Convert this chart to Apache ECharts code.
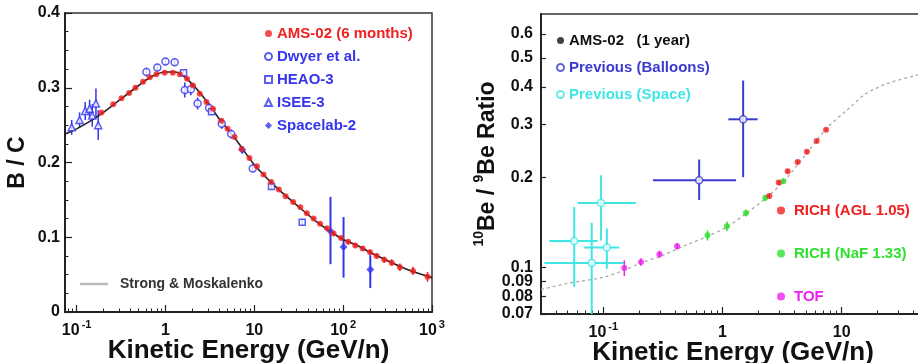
<!DOCTYPE html>
<html>
<head>
<meta charset="utf-8">
<script src="https://cdn.jsdelivr.net/npm/echarts@6/dist/echarts.min.js"></script>
<style>html,body{margin:0;padding:0;background:#fff;overflow:hidden}#c{width:918px;height:363px}</style>
</head>
<body>
<div id="c"></div>
<script>
const FONT = "'Liberation Sans', Arial, Helvetica, sans-serif";

// ---- left panel: B/C ----
const bcTheory = [[0.074,0.238],[0.1,0.245],[0.15,0.257],[0.2,0.267],[0.3,0.283],[0.5,0.303],[0.7,0.315],[1,0.321],[1.3,0.321],[1.7,0.313],[2.5,0.292],[4,0.259],[6,0.233],[10,0.197],[15,0.175],[20,0.161],[30,0.143],[50,0.121],[80,0.104],[100,0.097],[150,0.088],[200,0.080],[300,0.070],[500,0.058],[1000,0.046]];
const amsBC = [[0.19,0.267],[0.258,0.278],[0.32,0.286],[0.39,0.293],[0.46,0.300],[0.56,0.308],[0.667,0.314],[0.79,0.318],[0.98,0.320],[1.21,0.320],[1.45,0.318],[1.75,0.312],[2.04,0.303],[2.43,0.292],[2.89,0.281],[3.42,0.272],[4.25,0.256],[5.0,0.245],[6.0,0.234],[7.2,0.218],[8.8,0.206],[10.7,0.195],[12.7,0.184],[15.5,0.174],[18.9,0.164],[22.5,0.155],[27.4,0.147],[33,0.140],[39,0.132],[46.5,0.125],[55,0.118],[66,0.112],[78,0.105],[95,0.099],[114,0.094],[137,0.089],[166,0.085],[201,0.080],[238,0.075],[290,0.070],[352,0.066],[435,0.060],[612,0.055],[891,0.047]];
const amsBCErr = [0.002,0.002,0.002,0.002,0.002,0.002,0.002,0.002,0.002,0.002,0.002,0.002,0.002,0.002,0.002,0.002,0.002,0.002,0.002,0.002,0.002,0.002,0.002,0.002,0.002,0.002,0.002,0.002,0.002,0.002,0.002,0.002,0.0025,0.0025,0.003,0.003,0.003,0.0035,0.0035,0.004,0.0045,0.005,0.0055,0.0065];
const dwyer = [[0.61,0.321],[0.81,0.327],[1.0,0.335],[1.27,0.334],[1.65,0.297],[1.93,0.298],[2.3,0.279],[3.1,0.273],[4.3,0.252],[5.5,0.238],[9.6,0.192]];
const dwyerErr = [0.006,0.005,0.005,0.005,0.01,0.008,0.008,0.007,0.007,0.006,0.005];
const heao = [[1.6,0.320],[3.3,0.268],[15.6,0.168],[34.6,0.120]];
const heaoErr = [0.004,0.004,0.004,0.004];
const isee = [[0.088,0.247],[0.108,0.257],[0.125,0.269],[0.14,0.272],[0.15,0.263],[0.165,0.279],[0.175,0.250]];
const iseeErr = [0.010,0.010,0.012,0.012,0.015,0.020,0.020];
const spacelab = [[7.3,0.217],[72,0.108],[101,0.087],[202,0.057]];
const spacelabRange = [[0.212,0.222],[0.064,0.154],[0.046,0.127],[0.032,0.076]];

// ---- right panel: 10Be/9Be ----
const beModel = [[0.03,0.0845],[0.05,0.0885],[0.1,0.0928],[0.15,0.098],[0.2,0.103],[0.3,0.109],[0.5,0.119],[0.75,0.127],[1.1,0.137],[1.6,0.152],[2.3,0.170],[3.2,0.192],[5,0.238],[7.4,0.29],[11,0.334],[16,0.38],[24,0.41],[42,0.437],[50,0.443]];
const balloon = [[0.637,0.1954],[1.49,0.312]];
const balloonRange = [[0.261,1.30,0.168,0.229],[1.12,1.97,0.20,0.42]];
const space = [[0.057,0.1226],[0.0957,0.164],[0.107,0.1166],[0.0799,0.1036]];
const spaceRange = [[0.0352,0.0897,0.0862,0.159],[0.0609,0.188,0.123,0.203],[0.069,0.136,0.099,0.135],[0.032,0.148,0.0685,0.141]];
const tof = [[0.150,0.0997],[0.207,0.1044],[0.296,0.1107],[0.416,0.1178]];
const tofErr = [0.006,0.003,0.003,0.003];
const naf = [[0.748,0.128],[1.089,0.1373],[1.573,0.152],[2.285,0.1707],[3.24,0.194]];
const nafErr = [0.005,0.005,0.004,0.004,0.004];
const agl = [[2.47,0.173],[2.96,0.192],[3.52,0.2095],[4.27,0.2249],[5.11,0.243],[6.17,0.264],[7.39,0.288]];
const aglErr = [0.003,0.003,0.003,0.003,0.003,0.003,0.003];

const leftXTicks = [0.1, 1, 10, 100, 1000];
const rightXTicks = [0.1, 1, 10];
const rightYTicks = [0.07, 0.08, 0.09, 0.1, 0.2, 0.3, 0.4, 0.5, 0.6];

const RED = '#f02020', BLUE = '#3535f0', DBLUE = '#3b3bd0', CYAN = '#40e6e6', GREEN = '#30e030', MAG = '#f020f0';

function logMinor(lo, hi) {
  const out = [];
  for (let e = -3; e <= 4; e++) {
    for (let m = 2; m <= 9; m++) {
      const v = +(m * Math.pow(10, e)).toPrecision(3);
      if (v >= lo && v <= hi) out.push(v);
    }
  }
  return out;
}

function symErr(pts, err) {
  return pts.map((p, i) => [p[0], p[1], p[0], p[0], p[1] - err[i], p[1] + err[i]]);
}

function errBars(data, color, width, xi, yi) {
  return {
    type: 'custom', xAxisIndex: xi, yAxisIndex: yi, clip: true, silent: true, z: 1,
    encode: { x: 0, y: 1 },
    data: data,
    renderItem: function (params, api) {
      const x = api.value(0), y = api.value(1);
      const a = api.coord([api.value(2), y]), b = api.coord([api.value(3), y]);
      const c = api.coord([x, api.value(4)]), d = api.coord([x, api.value(5)]);
      const st = { stroke: color, lineWidth: width };
      const kids = [{ type: 'line', shape: { x1: c[0], y1: c[1], x2: d[0], y2: d[1] }, style: st }];
      if (b[0] - a[0] > 0.5) kids.push({ type: 'line', shape: { x1: a[0], y1: a[1], x2: b[0], y2: b[1] }, style: st });
      return { type: 'group', children: kids };
    }
  };
}

const powRich = {
  b: { fontSize: 16, fontWeight: 'bold', color: '#111', fontFamily: FONT, verticalAlign: 'bottom', lineHeight: 20 },
  s: { fontSize: 11, fontWeight: 'bold', color: '#111', fontFamily: FONT, verticalAlign: 'top', padding: [0, 0, 0, 2] }
};
function powLabel(v) {
  const e = Math.round(Math.log10(v));
  if (e === 0) return '{b|1}';
  if (e === 1) return '{b|10}';
  return '{b|10}{s|' + e + '}';
}

const titleStyle = { fontSize: 26, fontWeight: 'bold', color: '#111', fontFamily: FONT };
const lineDark = { lineStyle: { color: '#222', width: 2 } };

function majorX(grid, min, max, ticks) {
  return {
    type: 'log', gridIndex: grid, min: min, max: max, position: 'bottom',
    name: 'Kinetic Energy (GeV/n)', nameLocation: 'middle', nameGap: 26, nameMoveOverlap: false,
    nameTextStyle: titleStyle,
    axisLine: lineDark,
    axisTick: { inside: true, length: 7, customValues: ticks, lineStyle: { color: '#222', width: 1.2 } },
    axisLabel: { customValues: ticks, margin: 7, formatter: powLabel, rich: powRich },
    splitLine: { show: false }
  };
}
function minorX(grid, min, max) {
  return {
    type: 'log', gridIndex: grid, min: min, max: max, position: 'bottom',
    axisLine: { show: false }, axisLabel: { show: false }, splitLine: { show: false },
    axisTick: { inside: true, length: 3.5, customValues: logMinor(min, max), lineStyle: { color: '#222', width: 1 } }
  };
}

const chart = echarts.init(document.getElementById('c'));
chart.setOption({
  animation: false,
  backgroundColor: '#fff',
  grid: [
    { left: 65, top: 13, width: 367, height: 299, outerBoundsMode: 'none', show: true, borderColor: '#333', borderWidth: 1.5 },
    { left: 541, top: 14, width: 384, height: 300, outerBoundsMode: 'none', show: true, borderColor: '#333', borderWidth: 1.5 }
  ],
  xAxis: [
    majorX(0, 0.074, 1000, leftXTicks),
    minorX(0, 0.074, 1000),
    majorX(1, 0.03, 50, rightXTicks),
    minorX(1, 0.03, 50)
  ],
  yAxis: [
    {
      type: 'value', gridIndex: 0, min: 0, max: 0.4, interval: 0.1,
      name: 'B / C', nameLocation: 'middle', nameGap: 36, nameRotate: 90, nameMoveOverlap: false,
      nameTextStyle: { fontSize: 23, fontWeight: 'bold', color: '#111', fontFamily: FONT },
      axisLine: lineDark,
      axisTick: { inside: true, length: 7, lineStyle: { color: '#222', width: 1.2 } },
      minorTick: { show: true, splitNumber: 4, length: 3.5, lineStyle: { color: '#222', width: 1 } },
      axisLabel: { fontSize: 16, fontWeight: 'bold', color: '#111', fontFamily: FONT, margin: 5 },
      splitLine: { show: false }
    },
    {
      type: 'log', gridIndex: 1, min: 0.07, max: 0.7,
      name: '{s|10}{b|Be / }{s|9}{b|Be Ratio}', nameLocation: 'middle', nameGap: 42, nameRotate: 90, nameMoveOverlap: false,
      nameTextStyle: {
        rich: {
          b: { fontSize: 23, fontWeight: 'bold', color: '#111', fontFamily: FONT, verticalAlign: 'bottom', lineHeight: 27 },
          s: { fontSize: 14, fontWeight: 'bold', color: '#111', fontFamily: FONT, verticalAlign: 'top' }
        }
      },
      axisLine: lineDark,
      axisTick: { inside: true, length: 5, customValues: rightYTicks, lineStyle: { color: '#222', width: 1.2 } },
      axisLabel: {
        customValues: rightYTicks, fontSize: 16, fontWeight: 'bold', color: '#111', fontFamily: FONT, margin: 8,
        formatter: v => String(Math.round(v * 100) / 100)
      },
      splitLine: { show: false }
    }
  ],
  legend: [
    {
      left: 259, top: 21, orient: 'vertical', itemWidth: 7, itemHeight: 7, itemGap: 8, selectedMode: false,
      textStyle: { fontSize: 15, fontWeight: 'bold', fontFamily: FONT, lineHeight: 15 },
      data: [
        { name: 'AMS-02 (6 months)', textStyle: { color: RED } },
        { name: 'Dwyer et al.', textStyle: { color: BLUE } },
        { name: 'HEAO-3', textStyle: { color: BLUE } },
        { name: 'ISEE-3', textStyle: { color: BLUE } },
        { name: 'Spacelab-2', textStyle: { color: BLUE } }
      ]
    },
    {
      left: 75, top: 272, itemWidth: 28, itemHeight: 2.5, selectedMode: false,
      textStyle: { fontSize: 14, fontWeight: 'bold', fontFamily: FONT, color: '#333', padding: [0, 0, 0, 7] },
      data: [{ name: 'Strong & Moskalenko', icon: 'rect', itemStyle: { color: '#bbb' } }]
    },
    {
      left: 551, top: 28, orient: 'vertical', itemWidth: 7, itemHeight: 7, itemGap: 12, selectedMode: false,
      textStyle: { fontSize: 15, fontWeight: 'bold', fontFamily: FONT, lineHeight: 15 },
      data: [
        { name: 'AMS-02   (1 year)', textStyle: { color: '#111' } },
        { name: 'Previous (Balloons)', textStyle: { color: DBLUE } },
        { name: 'Previous (Space)', textStyle: { color: CYAN } }
      ]
    },
    {
      left: 772, top: 198, orient: 'vertical', itemWidth: 8, itemHeight: 8, itemGap: 28, selectedMode: false,
      textStyle: { fontSize: 15, fontWeight: 'bold', fontFamily: FONT, lineHeight: 15, padding: [0, 0, 0, 4] },
      data: [
        { name: 'RICH (AGL 1.05)', textStyle: { color: RED } },
        { name: 'RICH (NaF 1.33)', textStyle: { color: GREEN } },
        { name: 'TOF', textStyle: { color: MAG } }
      ]
    }
  ],
  series: [
    // left panel
    { name: 'Strong & Moskalenko', type: 'line', xAxisIndex: 0, yAxisIndex: 0, data: bcTheory, smooth: 0.3,
      symbol: 'none', lineStyle: { color: '#222', width: 1.6 }, itemStyle: { color: '#222' }, z: 2 },
    errBars(symErr(amsBC, amsBCErr), RED, 1.5, 0, 0),
    errBars(symErr(dwyer, dwyerErr), BLUE, 1.5, 0, 0),
    errBars(symErr(heao, heaoErr), BLUE, 1.5, 0, 0),
    errBars(symErr(isee, iseeErr), BLUE, 1.5, 0, 0),
    errBars(spacelab.map((p, i) => [p[0], p[1], p[0], p[0], spacelabRange[i][0], spacelabRange[i][1]]), BLUE, 2, 0, 0),
    { name: 'AMS-02 (6 months)', type: 'scatter', xAxisIndex: 0, yAxisIndex: 0, data: amsBC,
      symbol: 'circle', symbolSize: 6, itemStyle: { color: RED }, z: 4 },
    { name: 'Dwyer et al.', type: 'scatter', xAxisIndex: 0, yAxisIndex: 0, data: dwyer,
      symbol: 'circle', symbolSize: 7, itemStyle: { color: '#fff', borderColor: BLUE, borderWidth: 1.5 }, z: 3 },
    { name: 'HEAO-3', type: 'scatter', xAxisIndex: 0, yAxisIndex: 0, data: heao,
      symbol: 'rect', symbolSize: 6, itemStyle: { color: '#fff', borderColor: BLUE, borderWidth: 1.5 }, z: 3 },
    { name: 'ISEE-3', type: 'scatter', xAxisIndex: 0, yAxisIndex: 0, data: isee,
      symbol: 'triangle', symbolSize: 7, itemStyle: { color: '#fff', borderColor: BLUE, borderWidth: 1.5 }, z: 3 },
    { name: 'Spacelab-2', type: 'scatter', xAxisIndex: 0, yAxisIndex: 0, data: spacelab,
      symbol: 'diamond', symbolSize: 8, itemStyle: { color: BLUE }, z: 3 },

    // right panel
    { name: 'model', type: 'line', xAxisIndex: 2, yAxisIndex: 1, data: beModel, smooth: 0.3, symbol: 'none',
      lineStyle: { color: '#aaa', width: 1.3, type: [3, 3] }, z: 1 },
    errBars(balloon.map((p, i) => [p[0], p[1]].concat(balloonRange[i])), DBLUE, 2, 2, 1),
    errBars(space.map((p, i) => [p[0], p[1]].concat(spaceRange[i])), CYAN, 2, 2, 1),
    errBars(symErr(tof, tofErr), MAG, 1.5, 2, 1),
    errBars(symErr(naf, nafErr), GREEN, 1.5, 2, 1),
    errBars(symErr(agl, aglErr), RED, 1.5, 2, 1),
    { name: 'AMS-02   (1 year)', type: 'scatter', xAxisIndex: 2, yAxisIndex: 1, data: [],
      symbol: 'circle', symbolSize: 6, itemStyle: { color: '#111' } },
    { name: 'Previous (Balloons)', type: 'scatter', xAxisIndex: 2, yAxisIndex: 1, data: balloon,
      symbol: 'circle', symbolSize: 7, itemStyle: { color: '#fff', borderColor: DBLUE, borderWidth: 1.5 }, z: 3 },
    { name: 'Previous (Space)', type: 'scatter', xAxisIndex: 2, yAxisIndex: 1, data: space,
      symbol: 'circle', symbolSize: 7, itemStyle: { color: '#fff', borderColor: CYAN, borderWidth: 1.5 }, z: 3 },
    { name: 'TOF', type: 'scatter', xAxisIndex: 2, yAxisIndex: 1, data: tof,
      symbol: 'circle', symbolSize: 6, itemStyle: { color: MAG }, z: 3 },
    { name: 'RICH (NaF 1.33)', type: 'scatter', xAxisIndex: 2, yAxisIndex: 1, data: naf,
      symbol: 'circle', symbolSize: 6, itemStyle: { color: GREEN }, z: 3 },
    { name: 'RICH (AGL 1.05)', type: 'scatter', xAxisIndex: 2, yAxisIndex: 1, data: agl,
      symbol: 'circle', symbolSize: 6, itemStyle: { color: RED }, z: 4 }
  ]
});
</script>
</body>
</html>
